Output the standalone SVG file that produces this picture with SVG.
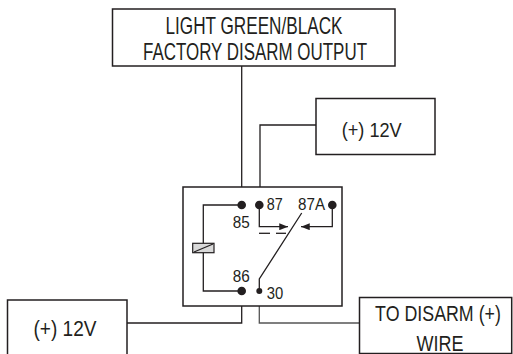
<svg xmlns="http://www.w3.org/2000/svg" width="513" height="354" viewBox="0 0 513 354">
<style>
.box{fill:#fff;stroke:#231f20;stroke-width:1.5}
.w{fill:none;stroke:#231f20;stroke-width:1.3}
.t{font-family:"Liberation Sans",Arial,sans-serif;fill:#231f20}
.dot{fill:#231f20}
</style>
<defs>
<marker id="ah" viewBox="0 0 10 8" refX="10" refY="4" markerWidth="9" markerHeight="7" markerUnits="userSpaceOnUse" orient="auto">
<path d="M0,0 L10,4 L0,8 Z" fill="#231f20"/>
</marker>
</defs>
<rect width="513" height="354" fill="#fff"/>
<g id="connectors">
<polyline class="w" points="241.7,66 241.7,205"/>
<polyline class="w" points="316,125 260,125 260,205"/>
<polyline class="w" points="241.7,291 241.7,323 127,323"/>
<polyline class="w" points="259.3,291 259.3,323 359,323" style="stroke:#555"/>
</g>
<g id="top-box">
<rect class="box" x="112.5" y="9" width="282.5" height="57"/>
<text class="t" x="254" y="34.3" font-size="24.5" text-anchor="middle" textLength="177" lengthAdjust="spacingAndGlyphs">LIGHT GREEN/BLACK</text>
<text class="t" x="255" y="60" font-size="24.5" text-anchor="middle" textLength="224" lengthAdjust="spacingAndGlyphs">FACTORY DISARM OUTPUT</text>
</g>
<g id="top-right-12v">
<rect class="box" x="316" y="98.5" width="119" height="56"/>
<text class="t" x="371.7" y="136.7" font-size="21" text-anchor="middle" textLength="60" lengthAdjust="spacingAndGlyphs">(+) 12V</text>
</g>
<g id="left-12v">
<rect class="box" x="7.5" y="300" width="119.5" height="60"/>
<text class="t" x="65" y="336" font-size="22" text-anchor="middle" textLength="63" lengthAdjust="spacingAndGlyphs">(+) 12V</text>
</g>
<g id="disarm-wire">
<rect class="box" x="359.5" y="297.5" width="152.2" height="56"/>
<text class="t" transform="translate(438,321) scale(0.81,1)" x="0" y="0" font-size="22" text-anchor="middle">TO DISARM (+)</text>
<text class="t" x="440" y="350.5" font-size="21.5" text-anchor="middle" textLength="47" lengthAdjust="spacingAndGlyphs">WIRE</text>
</g>
<g id="relay">
<rect class="box" x="183" y="187" width="159" height="119"/>
<polyline class="w" points="241.7,205 203.3,205 203.3,291 241.7,291"/>
<rect x="192.7" y="243.3" width="21.3" height="9.4" fill="#d9d9d9" stroke="#231f20" stroke-width="1.2"/>
<line class="w" x1="194" y1="252" x2="213" y2="244"/>
<polyline class="w" points="259.3,205 259.3,226.7 288,226.7" marker-end="url(#ah)"/>
<polyline class="w" points="332.3,205 332.3,226.7 301,226.7" marker-end="url(#ah)"/>
<line class="w" x1="259" y1="233.3" x2="270" y2="233.3" stroke-width="2"/>
<line class="w" x1="276" y1="233.3" x2="286" y2="233.3" stroke-width="2"/>
<polyline class="w" points="259.3,291 259.3,279 301.7,213"/>
<circle class="dot" cx="241.7" cy="205" r="4.3"/>
<circle class="dot" cx="259.3" cy="205" r="4.3"/>
<circle class="dot" cx="332.3" cy="205" r="4.3"/>
<circle class="dot" cx="241.7" cy="291" r="4.3"/>
<circle class="dot" cx="259.3" cy="291" r="3"/>
<text class="t" x="266.7" y="210" font-size="16" textLength="16" lengthAdjust="spacingAndGlyphs">87</text>
<text class="t" x="298" y="210" font-size="16" textLength="27" lengthAdjust="spacingAndGlyphs">87A</text>
<text class="t" x="232.7" y="228.3" font-size="16" textLength="17" lengthAdjust="spacingAndGlyphs">85</text>
<text class="t" x="232.7" y="282" font-size="16" textLength="17" lengthAdjust="spacingAndGlyphs">86</text>
<text class="t" x="266.7" y="299" font-size="16" textLength="16.5" lengthAdjust="spacingAndGlyphs">30</text>
</g>
</svg>
